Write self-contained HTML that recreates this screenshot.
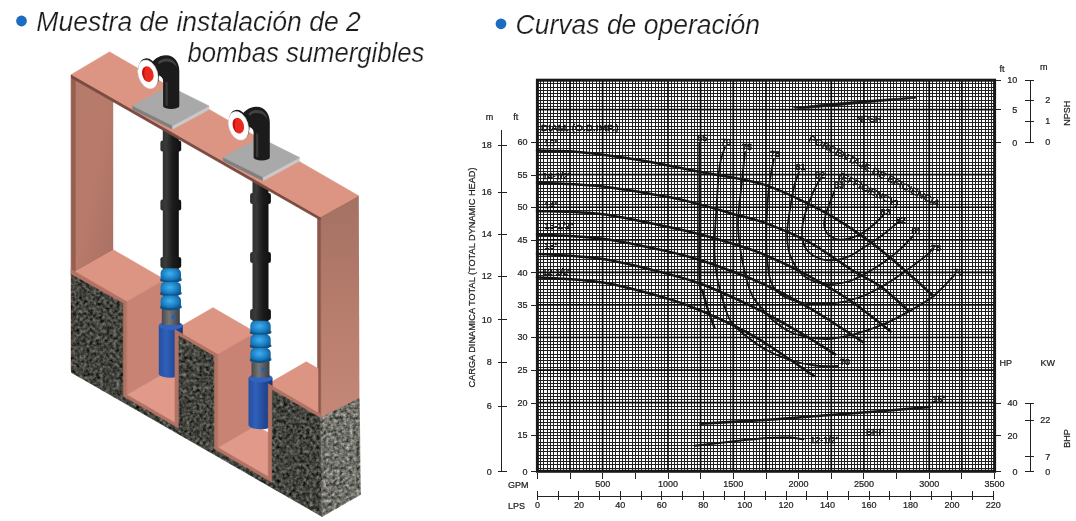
<!DOCTYPE html>
<html><head><meta charset="utf-8"><title>Curvas de operacion</title>
<style>html,body{margin:0;padding:0;background:#fff}body{width:1076px;height:521px;overflow:hidden;position:relative}svg{position:absolute;left:0;top:0;font-family:"Liberation Sans", sans-serif;will-change:opacity}.t{font-style:italic;font-size:27px;fill:#1d1d1b;stroke:#fff;stroke-width:0.22px;paint-order:fill stroke}.a{font-size:9px;fill:#1c1c1c;stroke:#1c1c1c;stroke-width:0.22px}.c{font-size:9px;fill:#111;stroke:#111;stroke-width:0.45px}</style></head><body>
<svg width="1076" height="521" viewBox="0 0 1076 521">
<defs>
<filter id="gr1" x="0" y="0" width="100%" height="100%" color-interpolation-filters="sRGB">
<feTurbulence type="fractalNoise" baseFrequency="0.30" numOctaves="2" seed="7" result="n"/>
<feColorMatrix in="n" type="matrix" values="0.6 0.3 0 0 -0.185  0.6 0.3 0 0 -0.185  0.58 0.29 0 0 -0.19  0 0 0 0 1" result="g"/>
<feComposite in="g" in2="SourceGraphic" operator="in"/>
</filter>
<filter id="gr2" x="0" y="0" width="100%" height="100%" color-interpolation-filters="sRGB">
<feTurbulence type="fractalNoise" baseFrequency="0.30" numOctaves="2" seed="11" result="n"/>
<feColorMatrix in="n" type="matrix" values="0.72 0.4 0 0 -0.12  0.72 0.4 0 0 -0.12  0.7 0.39 0 0 -0.13  0 0 0 0 1" result="g"/>
<feComposite in="g" in2="SourceGraphic" operator="in"/>
</filter>
<linearGradient id="pipe" x1="0" x2="1" y1="0" y2="0">
<stop offset="0" stop-color="#2e2e2e"/><stop offset="0.25" stop-color="#3a3a3a"/><stop offset="0.6" stop-color="#1c1c1c"/><stop offset="1" stop-color="#101010"/>
</linearGradient>
<linearGradient id="motor" x1="0" x2="1" y1="0" y2="0">
<stop offset="0" stop-color="#254e9f"/><stop offset="0.3" stop-color="#2f60ba"/><stop offset="0.75" stop-color="#20448d"/><stop offset="1" stop-color="#183572"/>
</linearGradient>
<linearGradient id="stage" x1="0" x2="1" y1="0" y2="0">
<stop offset="0" stop-color="#1467a6"/><stop offset="0.4" stop-color="#2b9ade"/><stop offset="0.8" stop-color="#1672b4"/><stop offset="1" stop-color="#0f588f"/>
</linearGradient>
<radialGradient id="bulb" cx="0.45" cy="0.38" r="0.6">
<stop offset="0" stop-color="#3fb0ef"/><stop offset="0.55" stop-color="#1f86cb"/><stop offset="1" stop-color="#0f5a93"/>
</radialGradient>
<linearGradient id="strn" x1="0" x2="1" y1="0" y2="0">
<stop offset="0" stop-color="#47494d"/><stop offset="0.4" stop-color="#74767a"/><stop offset="1" stop-color="#3c3e42"/>
</linearGradient>
<linearGradient id="rpost" x1="0" x2="0" y1="0" y2="1">
<stop offset="0" stop-color="#a37162"/><stop offset="0.5" stop-color="#b67c6c"/><stop offset="1" stop-color="#c58878"/>
</linearGradient>
<linearGradient id="lpost" x1="0" x2="1" y1="0" y2="1">
<stop offset="0" stop-color="#b57a6b"/><stop offset="0.5" stop-color="#b87a6b"/><stop offset="1" stop-color="#a87062"/>
</linearGradient>
</defs>
<circle cx="21.5" cy="21" r="5.4" fill="#1c6dbf"/>
<circle cx="501" cy="23.8" r="5.4" fill="#1c6dbf"/>
<text class="t" x="36.3" y="30.8" textLength="324.5" lengthAdjust="spacingAndGlyphs">Muestra de instalación de 2</text>
<text class="t" x="187.4" y="62.3" textLength="237" lengthAdjust="spacingAndGlyphs">bombas sumergibles</text>
<text class="t" x="515.6" y="33.5" textLength="244.5" lengthAdjust="spacingAndGlyphs">Curvas de operación</text>
<g id="illus">
<polygon points="75.2,79.5 113.2,101.3 113.2,250.4 75.2,272.1" fill="url(#lpost)" />
<polygon points="71.1,75.0 75.4,77.5 75.4,272.0 71.1,275.0" fill="#96604f" stroke="#96604f" stroke-width="0.7" stroke-linejoin="round" />
<polygon points="320.3,216.5 358.8,195.3 359.4,398.6 320.5,418.0" fill="url(#rpost)" />
<polygon points="317.6,216.0 320.6,217.5 320.7,417.8 317.6,416.0" fill="#8b584a" stroke="#8b584a" stroke-width="0.7" stroke-linejoin="round" />
<polygon points="75.4,271.9 113.4,249.9 164.8,279.7 126.8,301.7" fill="#dc9483" stroke="#dc9483" stroke-width="0.7" stroke-linejoin="round" />
<polygon points="175.0,329.7 213.0,307.7 255.8,332.5 217.8,354.5" fill="#dc9483" stroke="#dc9483" stroke-width="0.7" stroke-linejoin="round" />
<polygon points="268.3,383.8 306.3,361.8 318.0,368.6 318.0,412.6" fill="#dc9483" stroke="#dc9483" stroke-width="0.7" stroke-linejoin="round" />
<polygon points="126.8,394.7 164.8,372.7 213.0,400.7 175.0,422.7" fill="#e19a89" stroke="#e19a89" stroke-width="0.7" stroke-linejoin="round" />
<polygon points="217.8,447.5 255.8,425.5 306.3,454.8 268.3,476.8" fill="#e19a89" stroke="#e19a89" stroke-width="0.7" stroke-linejoin="round" />
<polygon points="126.8,301.7 164.8,279.7 164.8,372.7 126.8,394.7" fill="#c88374" stroke="#c88374" stroke-width="0.7" stroke-linejoin="round" />
<polygon points="217.8,354.5 255.8,332.5 255.8,425.5 217.8,447.5" fill="#c88374" stroke="#c88374" stroke-width="0.7" stroke-linejoin="round" />
<rect x="162.8" y="100" width="16.0" height="169.2" fill="url(#pipe)"/>
<rect x="160.4" y="140.5" width="20.8" height="11" rx="2.2" fill="url(#pipe)"/>
<rect x="160.4" y="199.5" width="20.8" height="11" rx="2.2" fill="url(#pipe)"/>
<rect x="160.4" y="257.0" width="20.8" height="11" rx="2.2" fill="url(#pipe)"/>
<path d="M158.8,325.5 L158.8,373.4 A12,4.4 0 0 0 182.8,373.4 L182.8,325.5 Z" fill="url(#motor)"/>
<ellipse cx="170.8" cy="325.5" rx="12" ry="4.4" fill="#3263c2"/>
<rect x="161.8" y="308.2" width="18" height="16.8" fill="url(#strn)"/>
<rect x="171.8" y="315.2" width="3.4" height="3.6" fill="#1f5fc0"/>
<rect x="160.6" y="268.2" width="20.4" height="14.3" rx="5" fill="url(#bulb)"/>
<path d="M160.2,278.7 Q170.8,283.7 181.6,278.3 L181.6,280.7 Q170.8,285.3 160.2,281.1 Z" fill="#0e5288"/>
<rect x="160.6" y="281.9" width="20.4" height="14.3" rx="5" fill="url(#bulb)"/>
<path d="M160.2,292.3 Q170.8,297.3 181.6,291.9 L181.6,294.3 Q170.8,298.9 160.2,294.7 Z" fill="#0e5288"/>
<rect x="160.6" y="295.5" width="20.4" height="14.3" rx="5" fill="url(#bulb)"/>
<path d="M160.2,306.0 Q170.8,311.0 181.6,305.6 L181.6,308.0 Q170.8,312.6 160.2,308.4 Z" fill="#0e5288"/>
<rect x="252.5" y="152" width="16.0" height="169.7" fill="url(#pipe)"/>
<rect x="250.1" y="193.0" width="20.8" height="11" rx="2.2" fill="url(#pipe)"/>
<rect x="250.1" y="252.0" width="20.8" height="11" rx="2.2" fill="url(#pipe)"/>
<rect x="250.1" y="309.0" width="20.8" height="11" rx="2.2" fill="url(#pipe)"/>
<path d="M248.5,378.0 L248.5,424.8 A12,4.4 0 0 0 272.5,424.8 L272.5,378.0 Z" fill="url(#motor)"/>
<ellipse cx="260.5" cy="378.0" rx="12" ry="4.4" fill="#3263c2"/>
<rect x="251.5" y="360.7" width="18" height="16.8" fill="url(#strn)"/>
<rect x="261.5" y="367.7" width="3.4" height="3.6" fill="#1f5fc0"/>
<rect x="250.3" y="320.7" width="20.4" height="14.3" rx="5" fill="url(#bulb)"/>
<path d="M249.9,331.2 Q260.5,336.2 271.3,330.8 L271.3,333.2 Q260.5,337.8 249.9,333.6 Z" fill="#0e5288"/>
<rect x="250.3" y="334.4" width="20.4" height="14.3" rx="5" fill="url(#bulb)"/>
<path d="M249.9,344.8 Q260.5,349.8 271.3,344.4 L271.3,346.8 Q260.5,351.4 249.9,347.2 Z" fill="#0e5288"/>
<rect x="250.3" y="348.0" width="20.4" height="14.3" rx="5" fill="url(#bulb)"/>
<path d="M249.9,358.5 Q260.5,363.5 271.3,358.1 L271.3,360.5 Q260.5,365.1 249.9,360.9 Z" fill="#0e5288"/>
<polygon points="71.1,269.4 126.8,301.7 126.8,394.7 175.0,422.7 175.0,329.7 217.8,354.5 217.8,447.5 268.3,476.8 268.3,383.8 320.7,414.2 322.1,514.5 71.1,370.3" fill="#b27263" stroke="#b27263" stroke-width="0.7" stroke-linejoin="round" />
<polygon points="71.1,274.6 122.8,303.4 122.8,396.4 179.0,429.0 179.0,336.0 213.8,356.2 213.8,449.2 272.3,483.1 272.3,390.1 320.7,418.2 322.1,516.5 71.1,372.3" fill="#555" stroke="#555" stroke-width="0.7" stroke-linejoin="round" filter="url(#gr1)"/>
<polygon points="320.7,417.8 359.2,398.6 360.4,494.6 322.1,516.5" fill="#888" stroke="#888" stroke-width="0.7" stroke-linejoin="round" filter="url(#gr2)"/>
<polygon points="71.5,74.5 320.3,216.9 320.3,220.1 71.5,77.9" fill="#7a4b40" stroke="#7a4b40" stroke-width="0.7" stroke-linejoin="round" />
<polygon points="71.5,74.5 109.5,51.9 358.4,195.7 320.3,216.9" fill="#dc9483" stroke="#dc9483" stroke-width="0.7" stroke-linejoin="round" />
<polygon points="132.8,105.8 172.6,125.6 172.6,129.2 132.8,109.4" fill="#7f7f7f" stroke="#7f7f7f" stroke-width="0.7" stroke-linejoin="round" />
<polygon points="172.6,125.6 208.9,106.0 208.9,109.6 172.6,129.2" fill="#c9c9c9" stroke="#c9c9c9" stroke-width="0.7" stroke-linejoin="round" />
<polygon points="132.8,105.8 169.1,86.2 208.9,106.0 172.6,125.6" fill="#a9a9a9" stroke="#a9a9a9" stroke-width="0.7" stroke-linejoin="round" />
<polygon points="223.3,157.3 263.1,177.1 263.1,180.7 223.3,160.9" fill="#7f7f7f" stroke="#7f7f7f" stroke-width="0.7" stroke-linejoin="round" />
<polygon points="263.1,177.1 299.4,157.5 299.4,161.1 263.1,180.7" fill="#c9c9c9" stroke="#c9c9c9" stroke-width="0.7" stroke-linejoin="round" />
<polygon points="223.3,157.3 259.6,137.7 299.4,157.5 263.1,177.1" fill="#a9a9a9" stroke="#a9a9a9" stroke-width="0.7" stroke-linejoin="round" />
<g transform="translate(0,0)">
<path d="M163.1,106 L163.1,81 C163.1,78 161.5,76.6 158.5,75 L151.5,63.5 C153.5,60 158.5,55.3 166,55.3 C174.5,55.3 179.3,62.5 179.3,71 L179.3,106 A8.1,3 0 0 1 163.1,106 Z" fill="#1b1b1b"/>
<path d="M158,62 C161.5,58.6 167,57.4 171.5,59.6 C174.5,61.2 176.3,64 177,67.5 C174.5,63.5 171,61.4 167,61.4 C163.5,61.4 160.5,62.6 158.8,64.6 Z" fill="#505050" opacity="0.75"/>
<path d="M165.4,82 L165.4,105.4 L167.8,105.9 L167.8,82 Z" fill="#383838"/>
<ellipse cx="148.7" cy="73.0" rx="9.9" ry="15.0" transform="rotate(-17 148.7 73.0)" fill="#1b1b1b"/>
<ellipse cx="148" cy="74.3" rx="9.6" ry="14.6" transform="rotate(-17 148 74.3)" fill="#ffffff" stroke="#e6e6e6" stroke-width="0.6"/>
<ellipse cx="147.8" cy="74.1" rx="5.6" ry="8" transform="rotate(-17 147.8 74.1)" fill="#ea2a1f"/>
<path d="M143.6,68 C141.6,72 142.6,78.5 146.2,81.2 C143.9,77 143.4,72 145.4,67.2 Z" fill="#b5140f"/>
</g>
<g transform="translate(90.5,51.5)">
<path d="M163.1,106 L163.1,81 C163.1,78 161.5,76.6 158.5,75 L151.5,63.5 C153.5,60 158.5,55.3 166,55.3 C174.5,55.3 179.3,62.5 179.3,71 L179.3,106 A8.1,3 0 0 1 163.1,106 Z" fill="#1b1b1b"/>
<path d="M158,62 C161.5,58.6 167,57.4 171.5,59.6 C174.5,61.2 176.3,64 177,67.5 C174.5,63.5 171,61.4 167,61.4 C163.5,61.4 160.5,62.6 158.8,64.6 Z" fill="#505050" opacity="0.75"/>
<path d="M165.4,82 L165.4,105.4 L167.8,105.9 L167.8,82 Z" fill="#383838"/>
<ellipse cx="148.7" cy="73.0" rx="9.9" ry="15.0" transform="rotate(-17 148.7 73.0)" fill="#1b1b1b"/>
<ellipse cx="148" cy="74.3" rx="9.6" ry="14.6" transform="rotate(-17 148 74.3)" fill="#ffffff" stroke="#e6e6e6" stroke-width="0.6"/>
<ellipse cx="147.8" cy="74.1" rx="5.6" ry="8" transform="rotate(-17 147.8 74.1)" fill="#ea2a1f"/>
<path d="M143.6,68 C141.6,72 142.6,78.5 146.2,81.2 C143.9,77 143.4,72 145.4,67.2 Z" fill="#b5140f"/>
</g>
</g>
<g id="chart">
<rect x="536.2" y="79.0" width="459.6" height="393.5" fill="#fff"/>
<path d="M540.66,80.2V471.3M543.93,80.2V471.3M547.20,80.2V471.3M550.46,80.2V471.3M553.73,80.2V471.3M557.00,80.2V471.3M560.27,80.2V471.3M563.54,80.2V471.3M566.81,80.2V471.3M573.34,80.2V471.3M576.61,80.2V471.3M579.88,80.2V471.3M583.15,80.2V471.3M586.42,80.2V471.3M589.68,80.2V471.3M592.95,80.2V471.3M596.22,80.2V471.3M599.49,80.2V471.3M606.03,80.2V471.3M609.29,80.2V471.3M612.56,80.2V471.3M615.83,80.2V471.3M619.10,80.2V471.3M622.37,80.2V471.3M625.64,80.2V471.3M628.91,80.2V471.3M632.17,80.2V471.3M635.44,80.2V471.3M638.71,80.2V471.3M641.98,80.2V471.3M645.25,80.2V471.3M648.52,80.2V471.3M651.78,80.2V471.3M655.05,80.2V471.3M658.32,80.2V471.3M661.59,80.2V471.3M664.86,80.2V471.3M671.39,80.2V471.3M674.66,80.2V471.3M677.93,80.2V471.3M681.20,80.2V471.3M684.47,80.2V471.3M687.74,80.2V471.3M691.00,80.2V471.3M694.27,80.2V471.3M697.54,80.2V471.3M704.08,80.2V471.3M707.35,80.2V471.3M710.62,80.2V471.3M713.88,80.2V471.3M717.15,80.2V471.3M720.42,80.2V471.3M723.69,80.2V471.3M726.96,80.2V471.3M730.23,80.2V471.3M736.76,80.2V471.3M740.03,80.2V471.3M743.30,80.2V471.3M746.57,80.2V471.3M749.84,80.2V471.3M753.10,80.2V471.3M756.37,80.2V471.3M759.64,80.2V471.3M762.91,80.2V471.3M769.45,80.2V471.3M772.71,80.2V471.3M775.98,80.2V471.3M779.25,80.2V471.3M782.52,80.2V471.3M785.79,80.2V471.3M789.06,80.2V471.3M792.33,80.2V471.3M795.59,80.2V471.3M798.86,80.2V471.3M802.13,80.2V471.3M805.40,80.2V471.3M808.67,80.2V471.3M811.94,80.2V471.3M815.20,80.2V471.3M818.47,80.2V471.3M821.74,80.2V471.3M825.01,80.2V471.3M828.28,80.2V471.3M834.81,80.2V471.3M838.08,80.2V471.3M841.35,80.2V471.3M844.62,80.2V471.3M847.89,80.2V471.3M851.16,80.2V471.3M854.42,80.2V471.3M857.69,80.2V471.3M860.96,80.2V471.3M867.50,80.2V471.3M870.77,80.2V471.3M874.04,80.2V471.3M877.30,80.2V471.3M880.57,80.2V471.3M883.84,80.2V471.3M887.11,80.2V471.3M890.38,80.2V471.3M893.65,80.2V471.3M896.91,80.2V471.3M900.18,80.2V471.3M903.45,80.2V471.3M906.72,80.2V471.3M909.99,80.2V471.3M913.26,80.2V471.3M916.52,80.2V471.3M919.79,80.2V471.3M923.06,80.2V471.3M926.33,80.2V471.3M932.87,80.2V471.3M936.13,80.2V471.3M939.40,80.2V471.3M942.67,80.2V471.3M945.94,80.2V471.3M949.21,80.2V471.3M952.48,80.2V471.3M955.75,80.2V471.3M959.01,80.2V471.3M965.55,80.2V471.3M968.82,80.2V471.3M972.09,80.2V471.3M975.36,80.2V471.3M978.62,80.2V471.3M981.89,80.2V471.3M985.16,80.2V471.3M988.43,80.2V471.3M991.70,80.2V471.3M537.4,83.86H994.6M537.4,87.11H994.6M537.4,90.37H994.6M537.4,93.62H994.6M537.4,96.88H994.6M537.4,100.14H994.6M537.4,103.39H994.6M537.4,106.65H994.6M537.4,113.16H994.6M537.4,116.42H994.6M537.4,119.67H994.6M537.4,122.93H994.6M537.4,126.19H994.6M537.4,129.44H994.6M537.4,132.70H994.6M537.4,135.96H994.6M537.4,139.21H994.6M537.4,142.47H994.6M537.4,145.72H994.6M537.4,148.98H994.6M537.4,152.24H994.6M537.4,155.49H994.6M537.4,158.75H994.6M537.4,162.00H994.6M537.4,165.26H994.6M537.4,168.52H994.6M537.4,171.77H994.6M537.4,178.29H994.6M537.4,181.54H994.6M537.4,184.80H994.6M537.4,188.05H994.6M537.4,191.31H994.6M537.4,194.57H994.6M537.4,197.82H994.6M537.4,201.08H994.6M537.4,204.34H994.6M537.4,210.85H994.6M537.4,214.10H994.6M537.4,217.36H994.6M537.4,220.62H994.6M537.4,223.87H994.6M537.4,227.13H994.6M537.4,230.39H994.6M537.4,233.64H994.6M537.4,236.90H994.6M537.4,243.41H994.6M537.4,246.67H994.6M537.4,249.92H994.6M537.4,253.18H994.6M537.4,256.43H994.6M537.4,259.69H994.6M537.4,262.95H994.6M537.4,266.20H994.6M537.4,269.46H994.6M537.4,275.97H994.6M537.4,279.23H994.6M537.4,282.48H994.6M537.4,285.74H994.6M537.4,289.00H994.6M537.4,292.25H994.6M537.4,295.51H994.6M537.4,298.77H994.6M537.4,302.02H994.6M537.4,308.53H994.6M537.4,311.79H994.6M537.4,315.05H994.6M537.4,318.30H994.6M537.4,321.56H994.6M537.4,324.81H994.6M537.4,328.07H994.6M537.4,331.33H994.6M537.4,334.58H994.6M537.4,341.10H994.6M537.4,344.35H994.6M537.4,347.61H994.6M537.4,350.86H994.6M537.4,354.12H994.6M537.4,357.38H994.6M537.4,360.63H994.6M537.4,363.89H994.6M537.4,367.15H994.6M537.4,373.66H994.6M537.4,376.91H994.6M537.4,380.17H994.6M537.4,383.43H994.6M537.4,386.68H994.6M537.4,389.94H994.6M537.4,393.20H994.6M537.4,396.45H994.6M537.4,399.71H994.6M537.4,406.22H994.6M537.4,409.48H994.6M537.4,412.73H994.6M537.4,415.99H994.6M537.4,419.24H994.6M537.4,422.50H994.6M537.4,425.76H994.6M537.4,429.01H994.6M537.4,432.27H994.6M537.4,435.53H994.6M537.4,438.78H994.6M537.4,442.04H994.6M537.4,445.29H994.6M537.4,448.55H994.6M537.4,451.81H994.6M537.4,455.06H994.6M537.4,458.32H994.6M537.4,461.58H994.6M537.4,464.83H994.6M537.4,468.09H994.6" fill="none" stroke="#202020" stroke-width="1" shape-rendering="crispEdges"/>
<path d="M570.00,80.2V471.3M602.66,80.2V471.3M667.97,80.2V471.3M700.63,80.2V471.3M733.29,80.2V471.3M765.95,80.2V471.3M831.26,80.2V471.3M863.92,80.2V471.3M929.24,80.2V471.3M961.90,80.2V471.3M537.4,109.56H994.6M537.4,174.68H994.6M537.4,207.24H994.6M537.4,239.80H994.6M537.4,272.37H994.6M537.4,304.93H994.6M537.4,337.49H994.6M537.4,370.05H994.6M537.4,402.61H994.6" fill="none" stroke="#0c0c0c" stroke-width="1.7"/>
<rect x="537.4" y="80.2" width="457.2" height="391.1" fill="none" stroke="#181818" stroke-width="3"/>
<g fill="none" stroke="#141414" stroke-linecap="round" stroke-linejoin="round">
<path d="M537.0,150.6 C542.5,150.7 559.0,150.6 570.0,151.3 C581.0,152.0 591.7,153.4 602.7,154.8 C613.7,156.2 625.0,157.8 636.0,159.6 C647.0,161.4 657.7,163.5 668.5,165.6 C679.3,167.7 684.6,168.8 700.6,172.0 C716.6,175.2 744.3,178.3 764.7,184.9 C785.1,191.5 807.2,203.2 822.9,211.3 C838.5,219.4 847.7,226.2 858.6,233.6 C869.5,241.0 875.8,245.6 888.3,256.0 C900.8,266.4 926.0,289.3 933.6,296.0" stroke-width="2.5"/>
<path d="M537.0,182.7 C548.0,183.3 580.8,184.0 602.7,186.4 C624.6,188.8 652.2,194.1 668.5,197.1 C684.8,200.1 689.7,201.8 700.6,204.6 C711.5,207.4 723.0,211.2 733.7,214.2 C744.4,217.2 752.2,218.2 764.7,222.8 C777.2,227.4 794.3,234.2 808.8,242.0 C823.3,249.8 839.5,262.3 851.5,269.8 C863.5,277.3 871.4,279.9 881.0,286.8 C890.6,293.7 904.3,307.3 909.0,311.4" stroke-width="2.5"/>
<path d="M537.0,211.0 C548.0,211.5 580.8,211.5 602.7,214.2 C624.6,216.9 652.2,223.6 668.5,227.0 C684.8,230.4 689.7,231.7 700.6,234.5 C711.5,237.3 723.0,240.7 733.7,244.1 C744.4,247.5 752.3,249.6 764.7,254.8 C777.1,260.0 793.8,267.9 808.0,275.5 C822.2,283.1 836.2,291.2 850.0,300.5 C863.8,309.8 883.8,326.2 890.6,331.4" stroke-width="2.5"/>
<path d="M537.0,234.5 C548.0,235.2 580.8,236.0 602.7,238.8 C624.6,241.7 652.2,248.0 668.5,251.6 C684.8,255.2 689.7,256.8 700.6,260.2 C711.5,263.6 723.0,267.9 733.7,272.0 C744.4,276.1 751.7,278.4 764.7,284.7 C777.8,290.9 795.6,299.9 812.0,309.5 C828.4,319.1 854.4,336.6 862.9,342.0" stroke-width="2.5"/>
<path d="M537.0,253.8 C548.0,254.7 580.8,255.7 602.7,259.1 C624.6,262.5 652.2,270.0 668.5,274.1 C684.8,278.2 689.7,279.8 700.6,283.7 C711.5,287.6 723.0,292.9 733.7,297.8 C744.4,302.7 753.7,307.0 764.7,312.8 C775.8,318.6 788.2,325.6 800.0,332.5 C811.8,339.4 829.4,350.8 835.3,354.4" stroke-width="2.5"/>
<path d="M537.0,277.3 C548.0,278.2 580.8,279.0 602.7,282.6 C624.6,286.2 652.2,294.2 668.5,298.9 C684.8,303.6 689.7,306.2 700.6,310.7 C711.5,315.1 723.0,320.3 733.7,325.6 C744.4,330.9 751.4,334.3 764.7,342.7 C778.1,351.1 805.6,370.4 813.8,375.9" stroke-width="2.5"/>
<path d="M699.6,143.0 C699.6,152.5 699.6,177.2 699.6,200.0 C699.6,222.8 699.1,264.8 699.6,280.0 C700.1,295.2 701.3,286.4 702.7,291.4 C704.1,296.4 706.0,303.9 708.0,310.0 C710.0,316.1 713.4,324.8 714.5,327.8" stroke-width="2.4"/>
<path d="M725.0,147.0 C724.3,149.2 721.8,155.5 720.8,160.0 C719.8,164.5 719.2,169.3 718.7,174.0 C718.2,178.7 718.4,176.3 717.7,188.0 C717.0,199.7 714.8,230.3 714.5,244.0 C714.2,257.7 715.1,262.4 716.0,270.0 C716.9,277.6 717.5,281.1 719.8,289.3 C722.0,297.5 725.9,312.1 729.5,319.2 C733.1,326.3 735.3,327.0 741.2,332.0 C747.1,337.0 756.6,344.3 764.7,349.0 C772.8,353.7 781.6,357.2 790.0,360.0 C798.4,362.8 807.0,364.5 815.0,365.5 C823.0,366.5 834.2,365.9 838.0,366.0" stroke-width="1.8"/>
<path d="M745.0,152.0 C744.4,158.0 742.4,176.2 741.2,188.0 C740.0,199.8 738.0,211.7 738.0,222.8 C738.0,233.9 739.2,243.6 741.2,254.8 C743.2,266.0 746.9,281.8 749.8,290.0 C752.6,298.2 754.1,298.9 758.3,304.2 C762.5,309.5 768.8,317.0 775.0,322.0 C781.2,327.0 786.9,331.2 795.4,334.0 C803.9,336.8 816.3,338.9 826.0,339.0 C835.7,339.1 844.5,336.7 853.7,334.4 C862.9,332.1 872.2,329.0 881.4,325.2 C890.6,321.4 900.3,316.3 909.0,311.4 C917.7,306.5 925.9,302.1 933.6,296.0 C941.3,289.9 951.4,278.1 955.0,274.5" stroke-width="1.8"/>
<path d="M773.8,159.0 C773.0,163.2 770.4,175.3 769.3,184.5 C768.1,193.7 767.4,204.4 766.9,214.3 C766.4,224.2 766.1,235.6 766.3,244.0 C766.4,252.4 767.0,258.6 767.8,264.9 C768.6,271.2 769.0,277.1 771.0,282.0 C773.0,286.9 775.7,290.8 780.0,294.0 C784.3,297.2 790.9,299.9 797.0,301.5 C803.1,303.1 809.5,303.6 816.9,303.7 C824.3,303.8 833.7,303.5 841.4,302.2 C849.1,300.9 856.2,298.6 862.9,296.0 C869.6,293.4 874.7,290.6 881.4,286.8 C888.1,283.0 895.2,278.4 902.9,273.0 C910.6,267.6 922.5,258.6 927.4,254.6 C932.2,250.6 931.2,249.9 932.0,249.0" stroke-width="1.8"/>
<path d="M799.0,172.0 C798.3,174.1 796.1,178.4 794.6,184.5 C793.1,190.6 791.4,200.4 790.1,208.3 C788.9,216.2 787.4,225.2 787.1,232.1 C786.9,239.0 787.4,244.5 788.6,250.0 C789.9,255.5 791.9,260.4 794.6,264.9 C797.3,269.4 799.9,273.6 805.0,276.8 C810.1,280.0 817.5,283.3 825.0,284.0 C832.5,284.7 841.7,283.7 850.0,281.0 C858.3,278.3 867.2,272.8 875.0,268.0 C882.8,263.2 890.7,257.3 897.0,252.0 C903.3,246.7 910.3,238.7 913.0,236.0" stroke-width="1.8"/>
<path d="M819.9,179.5 C818.9,181.3 816.4,184.7 813.9,190.5 C811.4,196.3 807.0,207.4 805.0,214.3 C803.0,221.2 802.0,226.7 802.0,232.1 C802.0,237.5 803.0,243.0 805.0,247.0 C807.0,251.0 809.9,253.8 813.9,256.0 C817.9,258.2 823.3,260.2 828.8,260.4 C834.3,260.6 840.8,259.6 846.7,257.4 C852.7,255.2 858.5,250.7 864.5,247.0 C870.5,243.3 876.7,239.3 882.4,235.1 C888.1,230.9 896.1,223.9 898.8,221.7" stroke-width="1.8"/>
<path d="M834.5,191.0 C833.0,194.9 827.5,208.4 825.8,214.3 C824.1,220.2 823.8,222.7 824.3,226.2 C824.8,229.7 826.1,232.9 828.8,235.1 C831.5,237.3 835.7,239.6 840.7,239.6 C845.7,239.6 853.1,237.6 858.6,235.1 C864.1,232.6 869.3,228.2 873.5,224.7 C877.7,221.2 882.2,216.0 883.9,214.3" stroke-width="1.8"/>
<path d="M793.8,107.6 L830,103.6 L870,100.2 L915.6,96.9 L915.6,98.3 L870,102.6 L830,106.4 L800,108.8 Z" fill="#141414" stroke-width="0.6"/>
<path d="M700.6,423.8 C711.8,423.1 747.0,421.1 768.0,419.7 C789.0,418.3 807.2,416.7 826.8,415.2 C846.4,413.7 868.5,412.2 885.6,410.8 C902.7,409.4 922.3,407.6 929.6,407.0" stroke-width="2.6"/>
<path d="M694.7,445.8 C702.0,445.0 726.5,442.1 738.7,440.8 C750.9,439.5 759.5,438.4 768.0,437.9 C776.5,437.4 784.1,437.4 790.0,437.6 C795.9,437.8 801.1,439.0 803.3,439.3" stroke-width="2"/>
</g>
<g opacity="0.99">
<text class="c" x="702.3" y="141.2" font-size="10.3" text-anchor="middle" >65</text>
<text class="c" x="726" y="145.1" font-size="10.3" text-anchor="middle" >70</text>
<text class="c" x="747" y="149.5" font-size="10.3" text-anchor="middle" >75</text>
<text class="c" x="775" y="156.9" font-size="10.3" text-anchor="middle" >78</text>
<text class="c" x="800.5" y="170.4" font-size="10.3" text-anchor="middle" >81</text>
<text class="c" x="820" y="177.7" font-size="10.3" text-anchor="middle" >82</text>
<text class="c" x="839" y="188.2" font-size="10.3" text-anchor="middle" >83</text>
<text class="c" x="885.4" y="214.9" font-size="10.3" text-anchor="middle" >83</text>
<text class="c" x="900.8" y="222.5" font-size="10.3" text-anchor="middle" >82</text>
<text class="c" x="916.6" y="234.4" font-size="10.3" text-anchor="middle" >81</text>
<text class="c" x="936" y="250.7" font-size="10.3" text-anchor="middle" >78</text>
<text class="c" x="958.3" y="274.5" font-size="10.3" text-anchor="middle" >70</text>
<text class="c" x="845" y="365.1" font-size="10.3" text-anchor="middle" >70</text>
<text class="c" x="541" y="130.5" font-size="10.3" text-anchor="start" textLength="77.5" lengthAdjust="spacingAndGlyphs">DIAM. (O.D.IMP.)</text>
<text class="c" x="544.5" y="146.2" font-size="10.3" text-anchor="start" >15"</text>
<text class="c" x="542.4" y="179.3" font-size="10.3" text-anchor="start" >14-1/2"</text>
<text class="c" x="544.5" y="207.5" font-size="10.3" text-anchor="start" >14"</text>
<text class="c" x="544.5" y="228.9" font-size="10.3" text-anchor="start" >13-1/2"</text>
<text class="c" x="544.5" y="249.2" font-size="10.3" text-anchor="start" >13"</text>
<text class="c" x="542.4" y="274.5" font-size="10.3" text-anchor="start" >12-1/2"</text>
<text class="c" x="869" y="121.9" font-size="10.3" text-anchor="middle" >NPSH</text>
<text class="c" x="875.3" y="434.7" font-size="10.3" text-anchor="middle" >BHP</text>
<text class="c" x="939.2" y="402.1" font-size="10.3" text-anchor="middle" >15"</text>
<text class="c" x="824.6" y="443.4" font-size="10.3" text-anchor="middle" >12-1/2"</text>
<text class="c" x="808" y="140.4" font-size="10.3" text-anchor="start" transform="rotate(27.1 808 140.4)" textLength="146" lengthAdjust="spacingAndGlyphs" stroke-width="0.15">PORCENTAJE DE EFICIENCIA</text>
<text class="c" x="838" y="177.4" font-size="10.3" text-anchor="start" transform="rotate(27.1 838 177.4)" textLength="66" lengthAdjust="spacingAndGlyphs" stroke-width="0.15">(EFFICIENCY)</text>
</g>
<g stroke="#222" stroke-width="1" fill="none" shape-rendering="crispEdges">
<path d="M531,142.2H536.5M531,175.2H536.5M531,207.4H536.5M531,240H536.5M531,272.5H536.5M531,305H536.5M531,337.3H536.5M531,370.2H536.5M531,403.2H536.5M531,435.4H536.5M531,471.5H536.5M501.5,130V471.5M498,145.4H507M498,192.2H507M498,234.3H507M498,276.4H507M498,319.5H507M498,362.4H507M498,406.3H507M498,471.5H507M537.5,472.5V478.8M570.1,472.5V478.8M602.8,472.5V478.8M635.4,472.5V478.8M668.1,472.5V478.8M700.7,472.5V478.8M733.3,472.5V478.8M766.0,472.5V478.8M798.6,472.5V478.8M831.3,472.5V478.8M863.9,472.5V478.8M896.5,472.5V478.8M929.2,472.5V478.8M961.8,472.5V478.8M994.5,472.5V478.8M537.5,496.3H993.5M537.5,491.4V499.8M558.2,491.4V499.8M578.9,491.4V499.8M599.7,491.4V499.8M620.4,491.4V499.8M641.1,491.4V499.8M661.8,491.4V499.8M682.5,491.4V499.8M703.3,491.4V499.8M724.0,491.4V499.8M744.7,491.4V499.8M765.4,491.4V499.8M786.1,491.4V499.8M806.9,491.4V499.8M827.6,491.4V499.8M848.3,491.4V499.8M869.0,491.4V499.8M889.7,491.4V499.8M910.5,491.4V499.8M931.2,491.4V499.8M951.9,491.4V499.8M972.6,491.4V499.8M993.3,491.4V499.8M995.5,80.5H1001M995.5,109.6H1001M995.5,142.3H1001M1030.4,80.5V142.3M1025,80.5H1034M1025,100.3H1034M1025,121.2H1034M1025,142.3H1034M995.5,403.3H1001M995.5,435.2H1001M995.5,471.5H1001M1030.4,403.3V471.5M1025,403.3H1034M1025,420.3H1034M1025,456.4H1034M1025,471.5H1034"/>
</g>
<text class="a" x="527.6" y="145.2" text-anchor="end" >60</text>
<text class="a" x="527.6" y="178.2" text-anchor="end" >55</text>
<text class="a" x="527.6" y="210.4" text-anchor="end" >50</text>
<text class="a" x="527.6" y="243.0" text-anchor="end" >45</text>
<text class="a" x="527.6" y="275.5" text-anchor="end" >40</text>
<text class="a" x="527.6" y="308.0" text-anchor="end" >35</text>
<text class="a" x="527.6" y="340.3" text-anchor="end" >30</text>
<text class="a" x="527.6" y="373.2" text-anchor="end" >25</text>
<text class="a" x="527.6" y="406.2" text-anchor="end" >20</text>
<text class="a" x="527.6" y="438.4" text-anchor="end" >15</text>
<text class="a" x="527.6" y="474.5" text-anchor="end" >0</text>
<text class="a" x="491.8" y="148.4" text-anchor="end" >18</text>
<text class="a" x="491.8" y="195.2" text-anchor="end" >16</text>
<text class="a" x="491.8" y="237.3" text-anchor="end" >14</text>
<text class="a" x="491.8" y="279.4" text-anchor="end" >12</text>
<text class="a" x="491.8" y="322.5" text-anchor="end" >10</text>
<text class="a" x="491.8" y="365.4" text-anchor="end" >8</text>
<text class="a" x="491.8" y="409.3" text-anchor="end" >6</text>
<text class="a" x="491.8" y="474.5" text-anchor="end" >0</text>
<text class="a" x="489.5" y="120" text-anchor="middle" >m</text>
<text class="a" x="515.8" y="120" text-anchor="middle" >ft</text>
<text class="a" x="508" y="488" text-anchor="start" >GPM</text>
<text class="a" x="508" y="509" text-anchor="start" >LPS</text>
<text class="a" x="602.78" y="487.3" text-anchor="middle" >500</text>
<text class="a" x="668.06" y="487.3" text-anchor="middle" >1000</text>
<text class="a" x="733.34" y="487.3" text-anchor="middle" >1500</text>
<text class="a" x="798.62" y="487.3" text-anchor="middle" >2000</text>
<text class="a" x="863.9" y="487.3" text-anchor="middle" >2500</text>
<text class="a" x="929.1800000000001" y="487.3" text-anchor="middle" >3000</text>
<text class="a" x="994.46" y="487.3" text-anchor="middle" >3500</text>
<text class="a" x="537.5" y="508.4" text-anchor="middle" >0</text>
<text class="a" x="578.94" y="508.4" text-anchor="middle" >20</text>
<text class="a" x="620.38" y="508.4" text-anchor="middle" >40</text>
<text class="a" x="661.8199999999999" y="508.4" text-anchor="middle" >60</text>
<text class="a" x="703.26" y="508.4" text-anchor="middle" >80</text>
<text class="a" x="744.7" y="508.4" text-anchor="middle" >100</text>
<text class="a" x="786.14" y="508.4" text-anchor="middle" >120</text>
<text class="a" x="827.5799999999999" y="508.4" text-anchor="middle" >140</text>
<text class="a" x="869.02" y="508.4" text-anchor="middle" >160</text>
<text class="a" x="910.46" y="508.4" text-anchor="middle" >180</text>
<text class="a" x="951.9" y="508.4" text-anchor="middle" >200</text>
<text class="a" x="993.3399999999999" y="508.4" text-anchor="middle" >220</text>
<text class="a" x="1002" y="72" text-anchor="middle" >ft</text>
<text class="a" x="1043.8" y="69.6" text-anchor="middle" >m</text>
<text class="a" x="1017.2" y="83.4" text-anchor="end" >10</text>
<text class="a" x="1017.2" y="112.60000000000001" text-anchor="end" >5</text>
<text class="a" x="1017.2" y="145.5" text-anchor="end" >0</text>
<text class="a" x="1050.2" y="102.7" text-anchor="end" >2</text>
<text class="a" x="1050.2" y="123.7" text-anchor="end" >1</text>
<text class="a" x="1050.2" y="145.29999999999998" text-anchor="end" >0</text>
<text class="a" x="999.6" y="366.2" text-anchor="start" >HP</text>
<text class="a" x="1040.4" y="366.2" text-anchor="start" >KW</text>
<text class="a" x="1017.6" y="405.8" text-anchor="end" >40</text>
<text class="a" x="1017.6" y="438.5" text-anchor="end" >20</text>
<text class="a" x="1017.6" y="474.5" text-anchor="end" >0</text>
<text class="a" x="1050.2" y="423.2" text-anchor="end" >22</text>
<text class="a" x="1050.2" y="459.6" text-anchor="end" >7</text>
<text class="a" x="1050.2" y="474.5" text-anchor="end" >0</text>
<text class="a" x="1070" y="113.3" text-anchor="middle" transform="rotate(-90 1070 113.3)" >NPSH</text>
<text class="a" x="1070" y="438.6" text-anchor="middle" transform="rotate(-90 1070 438.6)" >BHP</text>
<text class="a" x="475.3" y="277.5" text-anchor="middle" transform="rotate(-90 475.3 277.5)" textLength="220" lengthAdjust="spacingAndGlyphs">CARGA DINAMICA TOTAL (TOTAL DYNAMIC HEAD)</text>
</g>
</svg></body></html>
